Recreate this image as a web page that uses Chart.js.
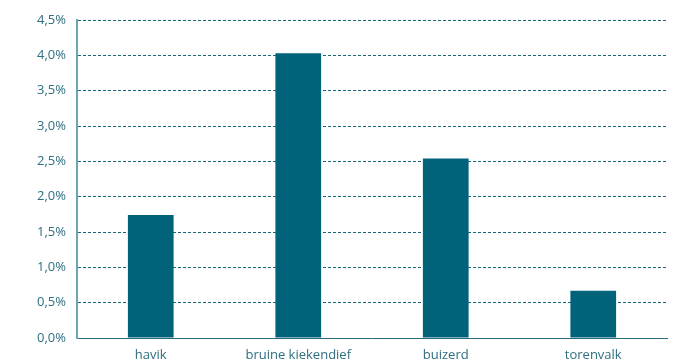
<!DOCTYPE html>
<html><head><meta charset="utf-8">
<script src="https://cdn.jsdelivr.net/npm/chart.js@4/dist/chart.umd.min.js"></script>
<style>html,body{margin:0;padding:0;background:#fff}#w{width:681px;height:364px}</style>
</head><body><div id="w"><canvas id="c"></canvas></div>
<script>
const categories = ["havik", "bruine kiekendief", "buizerd", "torenvalk"];
const values = [1.74, 4.03, 2.54, 0.67];
const yTicks = ["0,0%","0,5%","1,0%","1,5%","2,0%","2,5%","3,0%","3,5%","4,0%","4,5%"];

new Chart(document.getElementById('c'), {
  type: 'bar',
  data: { labels: categories, datasets: [{ data: values, backgroundColor: '#00637A', categoryPercentage: 1, barPercentage: 0.31 }] },
  options: {
    responsive: true, maintainAspectRatio: false, animation: false,
    layout: { padding: { top: 20, right: 14, left: 0, bottom: 0 } },
    plugins: { legend: { display: false }, tooltip: { enabled: false } },
    scales: {
      x: {
        grid: { display: false, drawTicks: false },
        border: { color: '#2a6a7a', width: 1 },
        ticks: { color: '#2E6F80', font: { family: 'Open Sans', size: 13 }, padding: 9, maxRotation: 0 },
        afterFit: s => { s.height = 26; }
      },
      y: {
        min: 0, max: 4.5,
        grid: { color: '#15687E', lineWidth: 1, drawTicks: false },
        border: { display: true, color: '#6fa4b2', width: 2, dash: [3, 2] },
        ticks: { stepSize: 0.5, color: '#2E6F80', font: { family: 'Open Sans', size: 13 }, padding: 11,
          callback: (v, i) => yTicks[Math.round(v / 0.5)] },
        afterFit: s => { s.width = 77; }
      }
    }
  }
});
</script>
</body></html>
